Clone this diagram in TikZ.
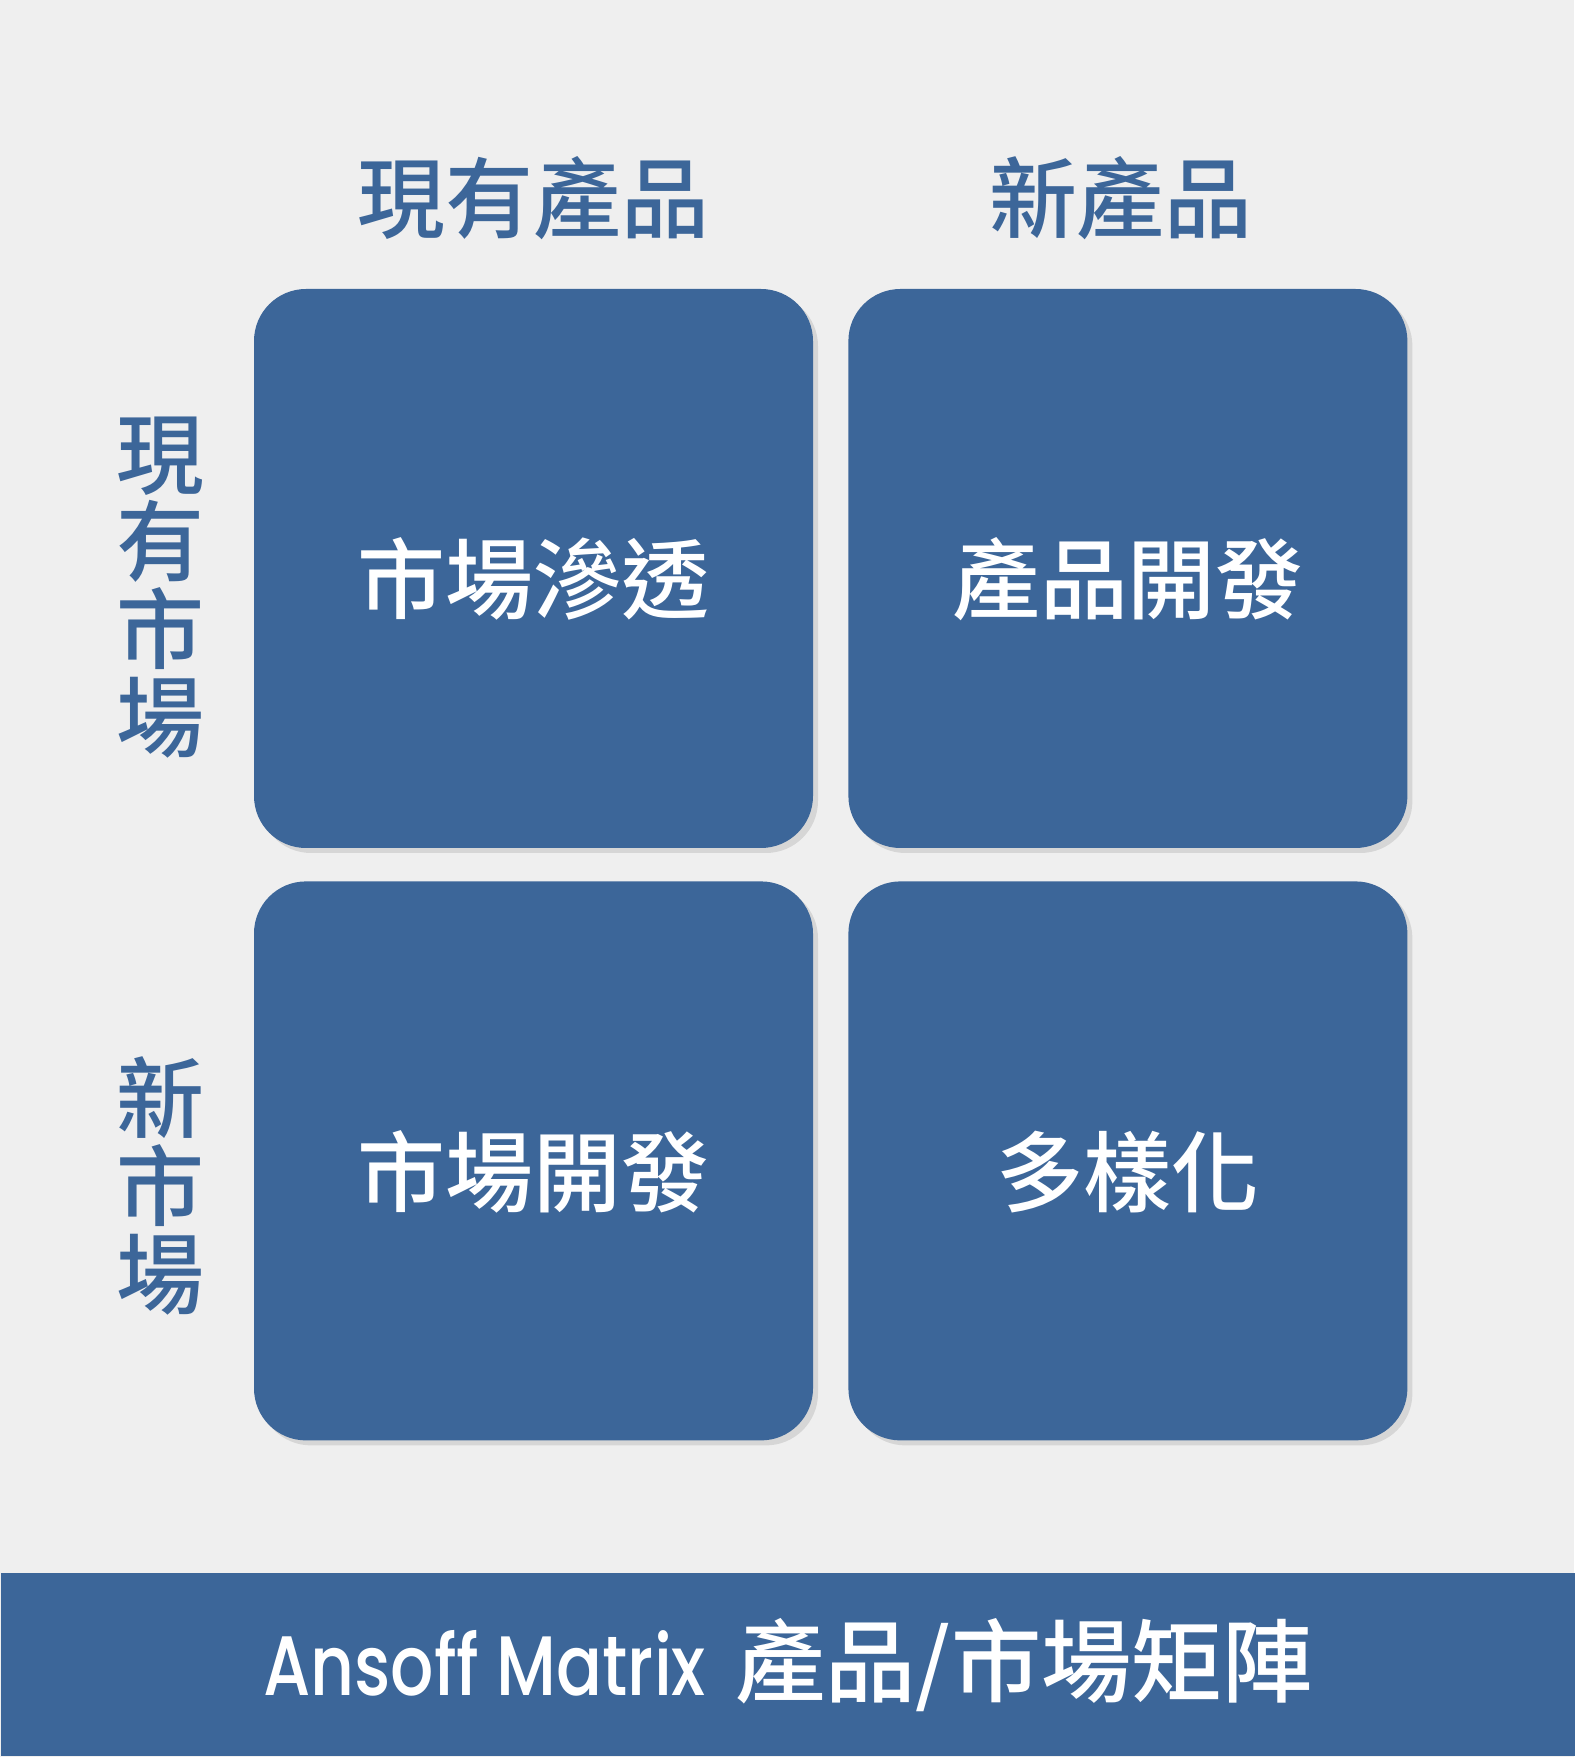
\documentclass[tikz,border=0pt]{standalone}
\usepackage{fontspec}
\IfFontExistsTF{Noto Sans CJK TC Medium}
  {\setmainfont{Noto Sans CJK TC Medium}}
  {\setmainfont{Noto Sans CJK TC}}
\IfFontExistsTF{Poppins Medium}
  {\newfontfamily\latinfont{Poppins Medium}}
  {\newfontfamily\latinfont{Poppins}}
\usepackage{xcolor}
\usetikzlibrary{positioning, calc, shadows}

\definecolor{ansoffblue}{RGB}{60,102,153}
\definecolor{paper}{RGB}{239,239,239}

\begin{document}
\begin{tikzpicture}[node distance=0.34cm,
    cell/.style={rectangle, fill=ansoffblue, text=white, minimum width=5.59cm, minimum height=5.59cm, rounded corners=0.52cm, inner sep=0pt, text height=25.3pt, text depth=0pt, font=\fontsize{25}{25}\selectfont, drop shadow={shadow xshift=0.05cm, shadow yshift=-0.05cm, fill=black, opacity=0.10}},
    head/.style={text=ansoffblue, inner sep=0pt, font=\fontsize{25}{25}\selectfont},
    side/.style={head, align=center, text width=1cm}]
    % Background and footer bar
    \fill[paper] (0,0) rectangle (15.74,17.57);
    \node (bar) [rectangle, fill=ansoffblue, anchor=south west, minimum width=15.74cm, minimum height=1.83cm, inner sep=0pt] at (0,0) {};
    \useasboundingbox (0,0) rectangle (15.74,17.57);

    % Matrix cells
    \node (penetration) [cell] at (5.335,11.885) {市場滲透};
    \node (product) [cell, right=of penetration] {產品開發};
    \node (market) [cell, below=0.32cm of penetration] {市場開發};
    \node (diversify) [cell, right=of market] {多樣化};

    % Column headers
    \node (existprod) [head] at ($(penetration.north)+(0,0.9)$) {現有產品};
    \node (newprod) [head] at ($(product.north)+(-0.07,0.9)$) {新產品};

    % Row headers
    \node (existmkt) [side, left=0.42cm of penetration, yshift=-0.19cm] {現\\有\\市\\場};
    \node (newmkt) [side, left=0.42cm of market, yshift=-0.25cm] {新\\市\\場};

    % Footer title
    \node (title) [text=white, inner sep=0pt, font=\fontsize{25.7}{25.7}\selectfont] at (bar.center) {\scalebox{0.805}[1]{\latinfont\fontsize{24}{25}\selectfont Ansoff Matrix}\hspace{0.1em} 產品/市場矩陣};
\end{tikzpicture}
\end{document}
